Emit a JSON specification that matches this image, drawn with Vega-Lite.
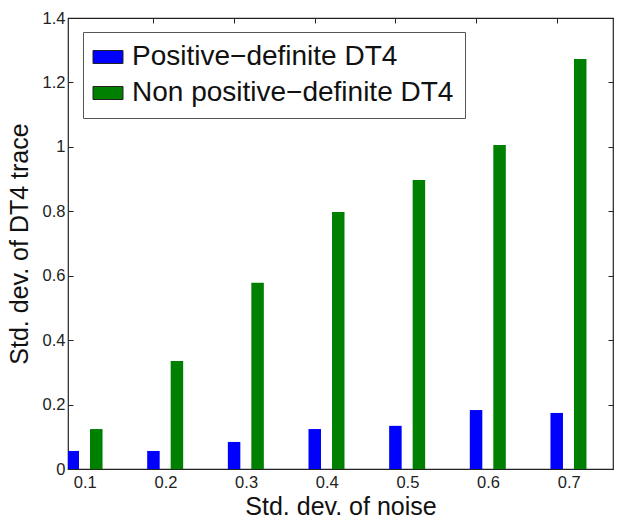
{
  "$schema": "https://vega.github.io/schema/vega-lite/v6.json",
  "width": 545,
  "height": 451,
  "autosize": "none",
  "padding": {"left": 68, "top": 18, "right": 11, "bottom": 60},
  "background": "white",
  "config": {
    "font": "Liberation Sans",
    "view": {"stroke": "#222222", "strokeWidth": 1.2},
    "axis": {"grid": false, "domain": false, "tickColor": "#222222", "labelColor": "#222222", "labelFont": "Liberation Sans", "labelFontSize": 16.5, "titleFont": "Liberation Sans", "titleFontSize": 25, "titleFontWeight": "normal", "titleColor": "#111111"}
  },
  "data": {
    "values": [
      {"noise": 0.1, "series": "Positive−definite DT4", "sd": 0.056},
      {"noise": 0.2, "series": "Positive−definite DT4", "sd": 0.056},
      {"noise": 0.3, "series": "Positive−definite DT4", "sd": 0.084},
      {"noise": 0.4, "series": "Positive−definite DT4", "sd": 0.124},
      {"noise": 0.5, "series": "Positive−definite DT4", "sd": 0.134},
      {"noise": 0.6, "series": "Positive−definite DT4", "sd": 0.183},
      {"noise": 0.7, "series": "Positive−definite DT4", "sd": 0.174},
      {"noise": 0.1, "series": "Non positive−definite DT4", "sd": 0.124},
      {"noise": 0.2, "series": "Non positive−definite DT4", "sd": 0.335},
      {"noise": 0.3, "series": "Non positive−definite DT4", "sd": 0.578},
      {"noise": 0.4, "series": "Non positive−definite DT4", "sd": 0.798},
      {"noise": 0.5, "series": "Non positive−definite DT4", "sd": 0.897},
      {"noise": 0.6, "series": "Non positive−definite DT4", "sd": 1.006},
      {"noise": 0.7, "series": "Non positive−definite DT4", "sd": 1.273}
    ]
  },
  "layer": [
    {
      "encoding": {
        "x": {"field": "noise", "type": "quantitative", "scale": {"domain": [0.0854, 0.7487], "nice": false, "zero": false},
          "axis": {"values": [0.1, 0.2, 0.3, 0.4, 0.5, 0.6, 0.7], "format": ".1f", "title": "Std. dev. of noise", "ticks": false, "labelPadding": 5, "titlePadding": 4}},
        "y": {"field": "sd", "type": "quantitative", "scale": {"domain": [0, 1.4], "nice": false},
          "axis": {"values": [0, 0.2, 0.4, 0.6, 0.8, 1, 1.2, 1.4], "format": "~g", "title": "Std. dev. of DT4 trace", "tickSize": -5, "labelPadding": 8, "titlePadding": 10}},
        "color": {"field": "series", "type": "nominal",
          "scale": {"domain": ["Positive−definite DT4", "Non positive−definite DT4"], "range": ["#0000ff", "#008000"]},
          "legend": {"title": null, "orient": "none", "legendX": 15, "legendY": 14, "direction": "vertical",
            "symbolType": "M-1.5,-0.65H1.5V0.65H-1.5Z", "symbolSize": 400, "symbolStrokeColor": "#222222", "symbolStrokeWidth": 1, "symbolOpacity": 1,
            "labelFontSize": 28, "labelColor": "#111111", "labelFont": "Liberation Sans", "labelLimit": 500, "rowPadding": 8, "labelOffset": 10,
            "padding": 11, "strokeColor": "#555555", "fillColor": "white", "cornerRadius": 0}}
      },
      "layer": [
        {
          "transform": [{"filter": "datum.series === 'Positive−definite DT4'"}],
          "mark": {"type": "bar", "width": 12.5, "xOffset": -12, "clip": true, "opacity": 1, "strokeWidth": 0}
        },
        {
          "transform": [{"filter": "datum.series === 'Non positive−definite DT4'"}],
          "mark": {"type": "bar", "width": 12.5, "xOffset": 11.5, "clip": true, "opacity": 1, "strokeWidth": 0}
        }
      ]
    },
    {
      "mark": {"type": "bar", "width": 1, "opacity": 0, "clip": true},
      "encoding": {
        "x": {"field": "noise", "type": "quantitative",
          "axis": {"orient": "top", "values": [0.2, 0.3, 0.4, 0.5, 0.6, 0.7], "labels": false, "title": null, "tickSize": -5, "tickOffset": -12}},
        "y": {"field": "sd", "type": "quantitative",
          "axis": {"orient": "right", "values": [0, 0.2, 0.4, 0.6, 0.8, 1, 1.2, 1.4], "labels": false, "title": null, "tickSize": -5}}
      }
    }
  ],
  "resolve": {"axis": {"x": "independent", "y": "independent"}}
}
